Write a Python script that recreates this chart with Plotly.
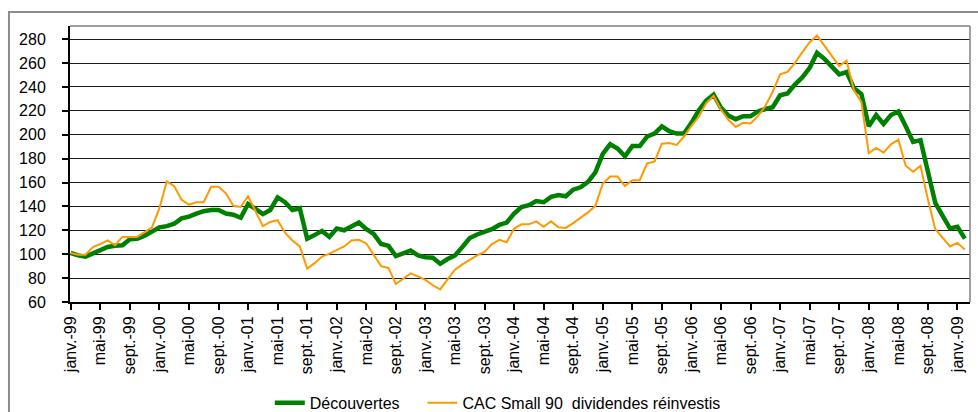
import plotly.graph_objects as go

# Monthly index values, janv.-99 .. févr.-09
decouvertes = [
    101, 99, 98, 101, 103, 106, 107, 107.5, 112.5, 113, 115.5, 119,
    122.5, 123.5, 125.5, 130, 131.5, 134, 136, 137, 137, 134, 133, 130.5,
    142, 138, 133.5, 137, 147.5, 143.5, 137, 138.5, 113, 116, 119.5, 114.5,
    121.5, 120, 123.5, 126.5, 121, 117, 108.5, 107, 98.5, 101, 103, 99,
    97.5, 97, 92, 96, 99, 106, 113.5, 116.5, 118.5, 121, 124.5, 126.5,
    134, 139.5, 141, 144.5, 143.5, 148, 149.5, 148.5, 154, 156, 160.5, 168.5,
    184, 192, 188.5, 182, 190.5, 190.5, 198.5, 201, 207, 203, 201, 201,
    210, 220.5, 228.5, 233.5, 222.5, 216, 213, 215.5, 215.5, 219.5, 221.5, 223,
    233, 234.5, 242, 248, 256, 268.5, 263.5, 257.5, 250.5, 252.5, 239, 234,
    207, 216.5, 209, 216.5, 219.5, 207, 194, 195.5, 171, 143, 132, 121.5,
    123, 113,
]

cac_small90 = [
    101, 99.5, 99.5, 106, 108.5, 111.5, 107.5, 114.5, 114.5, 114.5, 118.5, 122.5,
    138.5, 161, 157, 145.5, 141.5, 143.5, 143.5, 156.5, 156.5, 151, 140.5, 139.5,
    148.5, 135.5, 123.5, 127, 128.5, 118, 111.5, 106.5, 88, 92.5, 98, 100.5,
    103.5, 106.5, 111.5, 112, 109, 99, 90, 88.5, 75, 79.5, 84, 81.5,
    78.5, 74, 70.5, 79, 87, 91.5, 95.5, 99, 102, 108.5, 112, 110,
    121.5, 125, 125, 127.5, 123, 127.5, 122.5, 122, 126, 130.5, 135, 140.5,
    159, 165, 165, 157, 162, 162, 176, 177.5, 192.5, 193, 191.5, 198.5,
    207.5, 215, 226.5, 232.5, 221, 212.5, 206.5, 210, 209.5, 215.5, 224, 236,
    250.5, 252.5, 260, 269, 277.5, 283, 274.5, 265, 257.5, 262, 237, 227.5,
    184.5, 189, 185, 192, 196, 174, 169, 174, 146, 121, 113.5, 106.5,
    109.5, 104,
]

tick_labels = [
    "janv.-99", "mai-99", "sept.-99", "janv.-00", "mai-00", "sept.-00",
    "janv.-01", "mai-01", "sept.-01", "janv.-02", "mai-02", "sept.-02",
    "janv.-03", "mai-03", "sept.-03", "janv.-04", "mai-04", "sept.-04",
    "janv.-05", "mai-05", "sept.-05", "janv.-06", "mai-06", "sept.-06",
    "janv.-07", "mai-07", "sept.-07", "janv.-08", "mai-08", "sept.-08",
    "janv.-09",
]
tick_step = 4
y_ticks = list(range(60, 281, 20))

month_index = list(range(len(decouvertes)))
tick_positions = [i * tick_step for i in range(len(tick_labels))]

FONT = "Liberation Sans, Arial, sans-serif"

fig = go.Figure()
fig.add_trace(go.Scatter(
    x=month_index, y=decouvertes, mode="lines",
    name="Découvertes\u00a0\u00a0\u00a0\u00a0",
    line=dict(color="#008000", width=4.5),
))
fig.add_trace(go.Scatter(
    x=month_index, y=cac_small90, mode="lines",
    name="CAC Small 90\u00a0 dividendes réinvestis",
    line=dict(color="#FF9900", width=2),
))

fig.update_layout(
    width=978, height=412,
    margin=dict(l=70, r=8, t=26, b=110),
    paper_bgcolor="white", plot_bgcolor="white",
    font=dict(family=FONT, size=16, color="black"),
    showlegend=True,
    legend=dict(
        orientation="h", x=0.222, xanchor="left",
        yref="container", y=0.022, yanchor="middle",
        font=dict(family=FONT, size=16, color="black"),
        bgcolor="rgba(0,0,0,0)", borderwidth=0,
    ),
    xaxis=dict(
        range=[-0.1, 121.7], automargin=False,
        tickmode="array", tickvals=tick_positions, ticktext=tick_labels,
        tickangle=-90, ticks="outside", ticklen=6, tickwidth=1.5, tickcolor="black",
        showline=True, linecolor="black", linewidth=2,
        showgrid=False, zeroline=False,
        tickfont=dict(family=FONT, size=16, color="black"),
    ),
    yaxis=dict(
        range=[60, 291], automargin=False,
        tickmode="array", tickvals=y_ticks,
        ticks="outside", ticklen=6, tickwidth=1.5, tickcolor="black",
        showline=True, linecolor="black", linewidth=2,
        showgrid=True, gridcolor="#1a1a1a", gridwidth=1,
        zeroline=False,
        ticklabelstandoff=13,
        tickfont=dict(family=FONT, size=16, color="black"),
    ),
    shapes=[
        # plot-area top and right border
        dict(type="line", xref="paper", yref="paper", x0=0, x1=1, y0=1, y1=1,
             line=dict(color="#808080", width=1.5)),
        dict(type="line", xref="paper", yref="paper", x0=1, x1=1, y0=0, y1=1,
             line=dict(color="#808080", width=1.5)),
        # outer chart frame
        dict(type="rect", xref="paper", yref="paper",
             x0=-0.0678, x1=1.05, y0=-0.6, y1=1.0507,
             line=dict(color="#8c8c8c", width=2), fillcolor="rgba(0,0,0,0)"),
    ],
)

fig.write_html(
    "out.html",
    config={"displayModeBar": False},
    post_script="document.body.style.margin='0';document.body.style.overflow='hidden';",
)
